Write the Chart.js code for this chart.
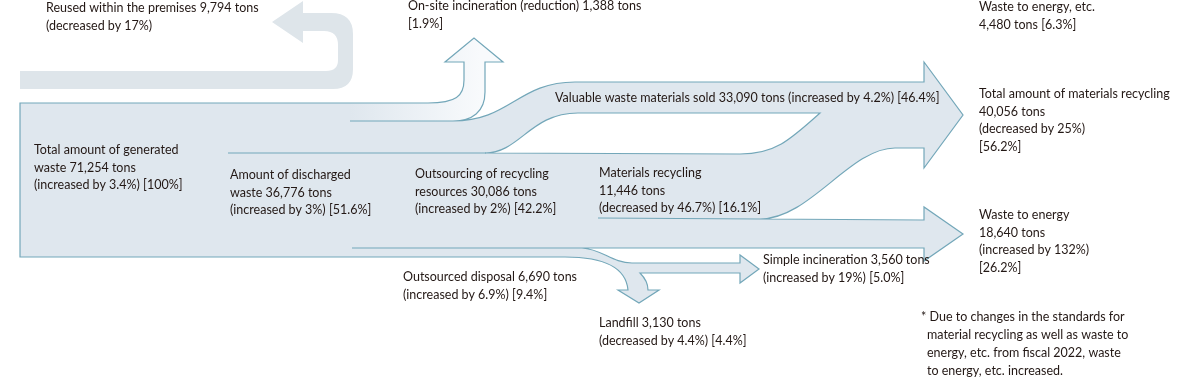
<!DOCTYPE html>
<html>
<head>
<meta charset="utf-8">
<script src="https://cdn.jsdelivr.net/npm/chart.js@4"></script>
<style>
  body { margin: 0; background: #fff; }
  #wrap { width: 1197px; height: 380px; position: relative; }
</style>
</head>
<body>
<div id="wrap"><canvas id="myChart"></canvas></div>
<script>
// Flow values (tons, change vs previous year, share of total)
const categories = ['generated', 'reused', 'onsite', 'valuable', 'discharged', 'outsourcingRecycling',
    'materialsRecycling', 'wasteToEnergy', 'outsourcedDisposal', 'simpleIncineration', 'landfill',
    'totalMaterialsRecycling', 'wasteToEnergyEtc'];
const tons = [71254, 9794, 1388, 33090, 36776, 30086, 11446, 18640, 6690, 3560, 3130, 40056, 4480];
const changes = ['increased by 3.4%', 'decreased by 17%', null, 'increased by 4.2%', 'increased by 3%',
    'increased by 2%', 'decreased by 46.7%', 'increased by 132%', 'increased by 6.9%', 'increased by 19%',
    'decreased by 4.4%', 'decreased by 25%', null];
const shares = ['100%', null, '1.9%', '46.4%', '51.6%', '42.2%', '16.1%', '26.2%', '9.4%', '5.0%', '4.4%',
    '56.2%', '6.3%'];

// Label text, {t} tons / {c} change / {s} share
const labelTemplates = [
    ['Total amount of generated', 'waste {t} tons', '({c}) [{s}]'],
    ['Reused within the premises {t} tons', '({c})'],
    ['On-site incineration (reduction) {t} tons', '[{s}]'],
    ['Valuable waste materials sold {t} tons ({c}) [{s}]'],
    ['Amount of discharged', 'waste {t} tons', '({c}) [{s}]'],
    ['Outsourcing of recycling', 'resources {t} tons', '({c}) [{s}]'],
    ['Materials recycling', '{t} tons', '({c}) [{s}]'],
    ['Waste to energy', '{t} tons', '({c})', '[{s}]'],
    ['Outsourced disposal {t} tons', '({c}) [{s}]'],
    ['Simple incineration {t} tons', '({c}) [{s}]'],
    ['Landfill {t} tons', '({c}) [{s}]'],
    ['Total amount of materials recycling', '{t} tons', '({c})', '[{s}]'],
    ['Waste to energy, etc.', '{t} tons [{s}]']
];
const footnote = ['* Due to changes in the standards for', 'material recycling as well as waste to',
    'energy, etc. from fiscal 2022, waste', 'to energy, etc. increased.'];

// Layout (chart units: x 0..1197, y 0..380 from top)
const labelPos = [[34, 150], [46, 8], [408, 6], [555, 98], [230, 175], [415, 174], [599, 173],
    [979, 215], [403, 277], [763, 260], [599, 323], [979, 94], [979, 7]];
const lineStep = 17.7;

const shapes = {
    reuse: [['M', 20, 71], ['L', 20, 89], ['L', 333, 89], ['Q', 353, 89, 353, 69], ['L', 353, 34],
        ['Q', 353, 13, 331, 13], ['L', 303, 13], ['L', 303, 1], ['L', 272, 22], ['L', 303, 43],
        ['L', 303, 31], ['L', 324, 31], ['Q', 338, 31, 338, 45], ['L', 338, 60], ['Q', 338, 71, 326, 71], ['Z']],
    main: [['M', 20, 103], ['L', 428, 103], ['C', 456, 103, 464, 96, 464, 80], ['L', 464, 62], ['L', 445, 62],
        ['L', 474, 38], ['L', 503, 62], ['L', 485, 62], ['L', 485, 92], ['C', 485, 112, 472, 121, 453, 121],
        ['C', 510, 121, 518, 82, 575, 82], ['L', 924, 82], ['L', 924, 62], ['L', 963, 115], ['L', 924, 168],
        ['L', 924, 148], ['L', 895, 148], ['C', 850, 148, 810, 219, 760, 219], ['L', 924, 220], ['L', 924, 207],
        ['L', 963, 234], ['L', 924, 261], ['L', 924, 248], ['L', 582, 248], ['C', 602, 249, 612, 263, 632, 263],
        ['L', 740, 263], ['L', 740, 255], ['L', 759, 269], ['L', 740, 283], ['L', 740, 273], ['L', 640, 273],
        ['C', 645, 278, 648, 284, 648, 290], ['L', 659, 290], ['L', 639, 303], ['L', 618, 290], ['L', 628, 290],
        ['C', 626, 268, 605, 257, 565, 257], ['L', 20, 257], ['Z']],
    onsite: [['M', 350, 103], ['L', 428, 103], ['C', 456, 103, 464, 96, 464, 80], ['L', 464, 62], ['L', 445, 62],
        ['L', 474, 38], ['L', 503, 62], ['L', 485, 62], ['L', 485, 92], ['C', 485, 112, 472, 121, 453, 121],
        ['L', 350, 121], ['Z']],
    notch: [['M', 485, 153], ['C', 520, 153, 530, 113, 578, 113], ['L', 820, 113],
        ['C', 790, 140, 775, 154, 740, 154], ['Z']],
    seps: [['M', 350, 121], ['L', 453, 121], ['M', 228, 153], ['L', 486, 153], ['M', 598, 218], ['L', 760, 219],
        ['M', 352, 248], ['L', 582, 248]]
};

const fillColor = '#dfe7ee';
const reuseColor = '#dee5ea';
const lineColor = '#73a7b9';
const textColor = '#231815';

function fmt(tpl, i) {
    return tpl.replace('{t}', tons[i].toLocaleString('en-US'))
        .replace('{c}', changes[i]).replace('{s}', shares[i]);
}

function trace(ctx, chart, cmds) {
    const X = v => chart.scales.x.getPixelForValue(v);
    const Y = v => chart.scales.y.getPixelForValue(v);
    ctx.beginPath();
    cmds.forEach(c => {
        if (c[0] === 'M') ctx.moveTo(X(c[1]), Y(c[2]));
        else if (c[0] === 'L') ctx.lineTo(X(c[1]), Y(c[2]));
        else if (c[0] === 'Q') ctx.quadraticCurveTo(X(c[1]), Y(c[2]), X(c[3]), Y(c[4]));
        else if (c[0] === 'C') ctx.bezierCurveTo(X(c[1]), Y(c[2]), X(c[3]), Y(c[4]), X(c[5]), Y(c[6]));
        else if (c[0] === 'Z') ctx.closePath();
    });
}

// Plugin: draw the flow shapes and labels
const flowPlugin = {
    id: 'flow',
    afterDraw(chart) {
        const ctx = chart.ctx;
        const X = v => chart.scales.x.getPixelForValue(v);
        const Y = v => chart.scales.y.getPixelForValue(v);
        ctx.save();
        ctx.lineJoin = 'miter';

        trace(ctx, chart, shapes.reuse);
        ctx.fillStyle = reuseColor;
        ctx.fill();

        trace(ctx, chart, shapes.main);
        ctx.fillStyle = fillColor;
        ctx.fill();

        // on-site branch fades out
        const grad = ctx.createLinearGradient(X(350), 0, X(480), 0);
        grad.addColorStop(0, fillColor);
        grad.addColorStop(1, '#f8fafc');
        trace(ctx, chart, shapes.onsite);
        ctx.fillStyle = grad;
        ctx.fill();

        trace(ctx, chart, shapes.notch);
        ctx.fillStyle = '#ffffff';
        ctx.fill();

        ctx.strokeStyle = lineColor;
        ctx.lineWidth = 1.2;
        trace(ctx, chart, shapes.main);
        ctx.stroke();
        trace(ctx, chart, shapes.notch);
        ctx.stroke();
        trace(ctx, chart, shapes.seps);
        ctx.stroke();

        // labels
        ctx.fillStyle = textColor;
        ctx.font = '12.5px Lato';
        ctx.textBaseline = 'middle';
        labelTemplates.forEach((tpl, i) => {
            tpl.forEach((line, k) => {
                ctx.fillText(fmt(line, i), X(labelPos[i][0]), Y(labelPos[i][1] + k * lineStep));
            });
        });
        footnote.forEach((line, k) => {
            ctx.fillText(line, X(k === 0 ? 921 : 927), Y(317 + k * 18));
        });
        ctx.restore();
    }
};

const ctx = document.getElementById('myChart').getContext('2d');
const myChart = new Chart(ctx, {
    type: 'scatter',
    data: { datasets: [] },
    options: {
        responsive: true,
        maintainAspectRatio: false,
        animation: false,
        layout: { padding: 0 },
        plugins: { legend: { display: false }, tooltip: { enabled: false } },
        scales: {
            x: { type: 'linear', min: 0, max: 1197, display: false },
            y: { type: 'linear', min: 0, max: 380, reverse: true, display: false }
        }
    },
    plugins: [flowPlugin]
});
</script>
</body>
</html>
